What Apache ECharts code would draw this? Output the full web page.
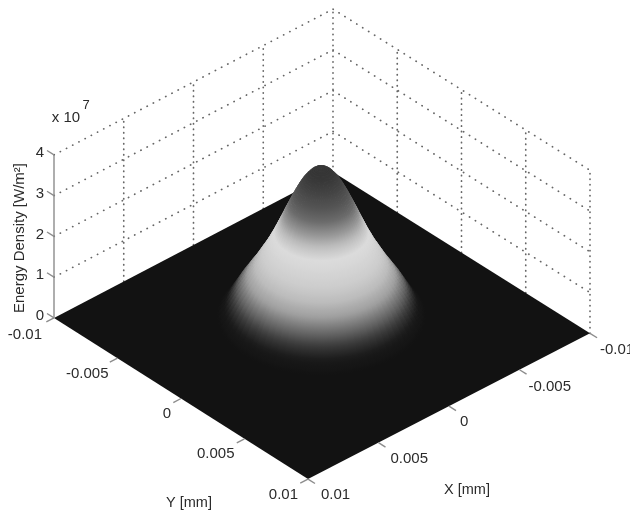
<!DOCTYPE html>
<html>
<head>
<meta charset="utf-8">
<style>html,body{margin:0;padding:0;background:#fff;overflow:hidden}#c{width:630px;height:511px;filter:blur(0.6px)}</style>
<script src="https://cdn.jsdelivr.net/npm/echarts@6/dist/echarts.min.js"></script>
</head>
<body>
<div id="c"></div>
<script>
// Values
var xTicks = [-0.01, -0.005, 0, 0.005, 0.01];
var yTicks = [-0.01, -0.005, 0, 0.005, 0.01];
var zTicks = [0, 1, 2, 3, 4];
var xTickLabels = ['-0.01', '-0.005', '0', '0.005', '0.01'];
var yTickLabels = ['-0.01', '-0.005', '0', '0.005', '0.01'];
// rotationally symmetric beam: radius from the centre, metres
var beamRadius = [0.0075,0.007,0.0065,0.006,0.0058,0.0056,0.0055,0.0054,0.0053,0.0052,0.0051,0.005,0.0049,0.0048,0.0047,0.0046,0.0045,0.0044,0.0043,0.0042,0.0041,0.004,0.0039,0.0038,0.0037,0.0036,0.0035,0.0034,0.0033,0.0032,0.0031,0.003,0.0029,0.0028,0.0027,0.0026,0.0025,0.0024,0.0023,0.0022,0.0021,0.002,0.0019,0.0018,0.0017,0.0016,0.0015,0.0014,0.0013,0.0012,0.0011,0.001,0.0009,0.0008,0.0007,0.0006,0.0005,0.0004,0.0003,0.0002,0.0001];
// energy density at that radius, x 10^7 W/m2
var beamEnergy = [0,0.02,0.05,0.1,0.14,0.2,0.24,0.28,0.33,0.38,0.44,0.52,0.58,0.65,0.72,0.79,0.86,0.93,0.99,1.05,1.11,1.18,1.24,1.3,1.36,1.43,1.5,1.57,1.64,1.71,1.78,1.85,1.93,2.01,2.09,2.17,2.26,2.35,2.44,2.53,2.62,2.72,2.81,2.9,2.99,3.08,3.17,3.25,3.33,3.41,3.48,3.55,3.61,3.66,3.71,3.76,3.8,3.82,3.83,3.84,3.85];
// gray colormap sampled every 0.25 x 10^7 from 0 to 4
var grayLevels = ['#121212','#121212','#1a1a1a','#3c3c3c','#6e6e6e','#a0a0a0','#bcbcbc','#cccccc','#d4d4d4','#dcdcdc','#c0c0c0','#949494','#6a6a6a','#545454','#444444','#363636','#303030'];

// View projection (oblique, with a slight perspective term)
var VIEW = {cx:321.25, cy:325.6, ax:-140.25, ay:72.9, bx:127.75, by:80.6, dx:-0.75, zs:40.75};
function project(x, y, z) {
  var s = x / 0.01, t = y / 0.01;
  return [VIEW.cx + VIEW.ax*s + VIEW.bx*t + VIEW.dx*s*t,
          VIEW.cy + VIEW.ay*s + VIEW.by*t - VIEW.zs*z];
}
function grayAt(z) { return echarts.color.lerp(Math.min(z / zMax, 1), grayLevels); }
var xMin = xTicks[0], xMax = xTicks[xTicks.length-1];
var yMin = yTicks[0], yMax = yTicks[yTicks.length-1];
var zMax = zTicks[zTicks.length-1];

function segmentSeries(segments, style) {
  return {
    type:'custom', coordinateSystem:'cartesian2d', clip:false, silent:true,
    data: segments.map(function(_, i){ return [i]; }),
    renderItem: function(params, api) {
      var g = segments[params.dataIndex];
      var p = api.coord(project(g[0], g[1], g[2]));
      var q = api.coord(project(g[3], g[4], g[5]));
      return {type:'line', shape:{x1:p[0], y1:p[1], x2:q[0], y2:q[1]}, style:style};
    }
  };
}
var dottedFlat = [];
zTicks.slice(1).forEach(function(z){
  dottedFlat.push([xMax,yMin,z, xMin,yMin,z]);
  dottedFlat.push([xMin,yMin,z, xMin,yMax,z]);
});
var dottedUp = [];
xTicks.slice(0,-1).forEach(function(x){ dottedUp.push([x,yMin,0, x,yMin,zMax]); });
yTicks.slice(1).forEach(function(y){ dottedUp.push([xMin,y,0, xMin,y,zMax]); });

var axisSegs = [[xMax,yMin,0, xMax,yMin,zMax]];
var tickK = 0.055;
zTicks.forEach(function(z){ axisSegs.push([xMax,yMin,z, xMax,yMin-0.01*tickK,z]); });
yTicks.forEach(function(y){ axisSegs.push([xMax,y,0, xMax+0.01*tickK,y,0]); });
xTicks.forEach(function(x){ axisSegs.push([x,yMax,0, x,yMax+0.01*tickK,0]); });

var texts = [];
xTicks.forEach(function(x,i){ texts.push({t:xTickLabels[i], p:[x,yMax,0], ox:[10,9,11,12,13][i], oy:[17,17,16,16,16][i], align:'left'}); });
yTicks.forEach(function(y,i){ texts.push({t:yTickLabels[i], p:[xMax,y,0], ox:[-12,-9,-10,-10,-10][i], oy:[17,16,15,15,16][i], align:'right'}); });
zTicks.forEach(function(z){ texts.push({t:String(z), p:[xMax,yMin,z], ox:-14, oy:-2, align:'center'}); });
var freeTexts = [
  {t:'x 10', at:[66,118], size:15},
  {t:'7', at:[86,105], size:13},
  {t:'X [mm]', at:[467,490], size:14.5},
  {t:'Y [mm]', at:[189,503], size:14.5},
  {t:'Energy Density [W/m\u00b2]', at:[20,238], size:15, rot:Math.PI/2}
];

var surfaceData = beamRadius.map(function(r,i){ return [r, beamEnergy[i]]; });
var SEG = 72;

var chart = echarts.init(document.getElementById('c'), null, {renderer:'canvas'});
chart.setOption({
  animation:false,
  backgroundColor:'#ffffff',
  tooltip:{show:false},
  grid:{left:0,right:0,top:0,bottom:0},
  xAxis:{type:'value',min:0,max:630,show:false},
  yAxis:{type:'value',min:0,max:511,inverse:true,show:false},
  series:[
    segmentSeries(dottedFlat,{stroke:'#666666',lineWidth:1.7,lineDash:[0.3,6.7],lineCap:'round',fill:null}),
    segmentSeries(dottedUp,{stroke:'#666666',lineWidth:1.7,lineDash:[0.3,5.2],lineCap:'round',fill:null}),
    { // floor
      type:'custom',coordinateSystem:'cartesian2d',clip:false,silent:true,
      data:[[0,0]],
      renderItem:function(params,api){
        var c=[[xMax,yMin],[xMax,yMax],[xMin,yMax],[xMin,yMin]].map(function(q){return api.coord(project(q[0],q[1],0));});
        return {type:'polygon',shape:{points:c},style:{fill:grayLevels[0]}};
      }
    },
    segmentSeries(axisSegs,{stroke:'#8c8c8c',lineWidth:1.4,fill:null}),
    { // surface of revolution: interpolated shading between rings, outermost first
      type:'custom',coordinateSystem:'cartesian2d',clip:false,silent:true,
      data:surfaceData,
      renderItem:function(params,api){
        var i=params.dataIndex, r=api.value(0), z=api.value(1);
        var last=i===surfaceData.length-1;
        var r2=last?0:surfaceData[i+1][0], z2=last?z:surfaceData[i+1][1];
        // each band runs a little under the next one so no seam shows between them
        var over=last?1:1.4;
        var r3=r+(r2-r)*over, z3=z+(z2-z)*over;
        var c1=grayAt(z), c2=grayAt(z2), kids=[];
        for(var k=0;k<SEG;k++){
          var t1=k/SEG*2*Math.PI, t2=(k+1.35)/SEG*2*Math.PI, tm=(k+0.5)/SEG*2*Math.PI;
          var a=api.coord(project(r*Math.cos(t1),r*Math.sin(t1),z));
          var b=api.coord(project(r*Math.cos(t2),r*Math.sin(t2),z));
          var c=api.coord(project(r3*Math.cos(t2),r3*Math.sin(t2),z3));
          var d=api.coord(project(r3*Math.cos(t1),r3*Math.sin(t1),z3));
          var m1=api.coord(project(r*Math.cos(tm),r*Math.sin(tm),z));
          var m2=api.coord(project(r2*Math.cos(tm),r2*Math.sin(tm),z2));
          var g=new echarts.graphic.LinearGradient(m1[0],m1[1],m2[0],m2[1],[{offset:0,color:c1},{offset:1,color:c2}],true);
          kids.push({type:'polygon',shape:{points:[a,b,c,d]},style:{fill:g,stroke:null}});
        }
        return {type:'group',children:kids};
      }
    },
    { // tick labels
      type:'custom',coordinateSystem:'cartesian2d',clip:false,silent:true,
      data:texts.map(function(_,i){return [i];}),
      renderItem:function(params,api){
        var d=texts[params.dataIndex], c=api.coord(project(d.p[0],d.p[1],d.p[2]));
        return {type:'text',x:c[0]+d.ox,y:c[1]+d.oy,style:{text:d.t,fill:'#2b2b2b',font:'15px "Liberation Sans", Arial, sans-serif',align:d.align,verticalAlign:'middle'}};
      }
    },
    { // titles
      type:'custom',coordinateSystem:'cartesian2d',clip:false,silent:true,
      data:freeTexts.map(function(_,i){return [i];}),
      renderItem:function(params,api){
        var d=freeTexts[params.dataIndex], c=api.coord(d.at);
        return {type:'text',x:c[0],y:c[1],rotation:d.rot||0,style:{text:d.t,fill:'#2b2b2b',font:d.size+'px "Liberation Sans", Arial, sans-serif',align:'center',verticalAlign:'middle'}};
      }
    }
  ]
});
</script>
</body>
</html>
